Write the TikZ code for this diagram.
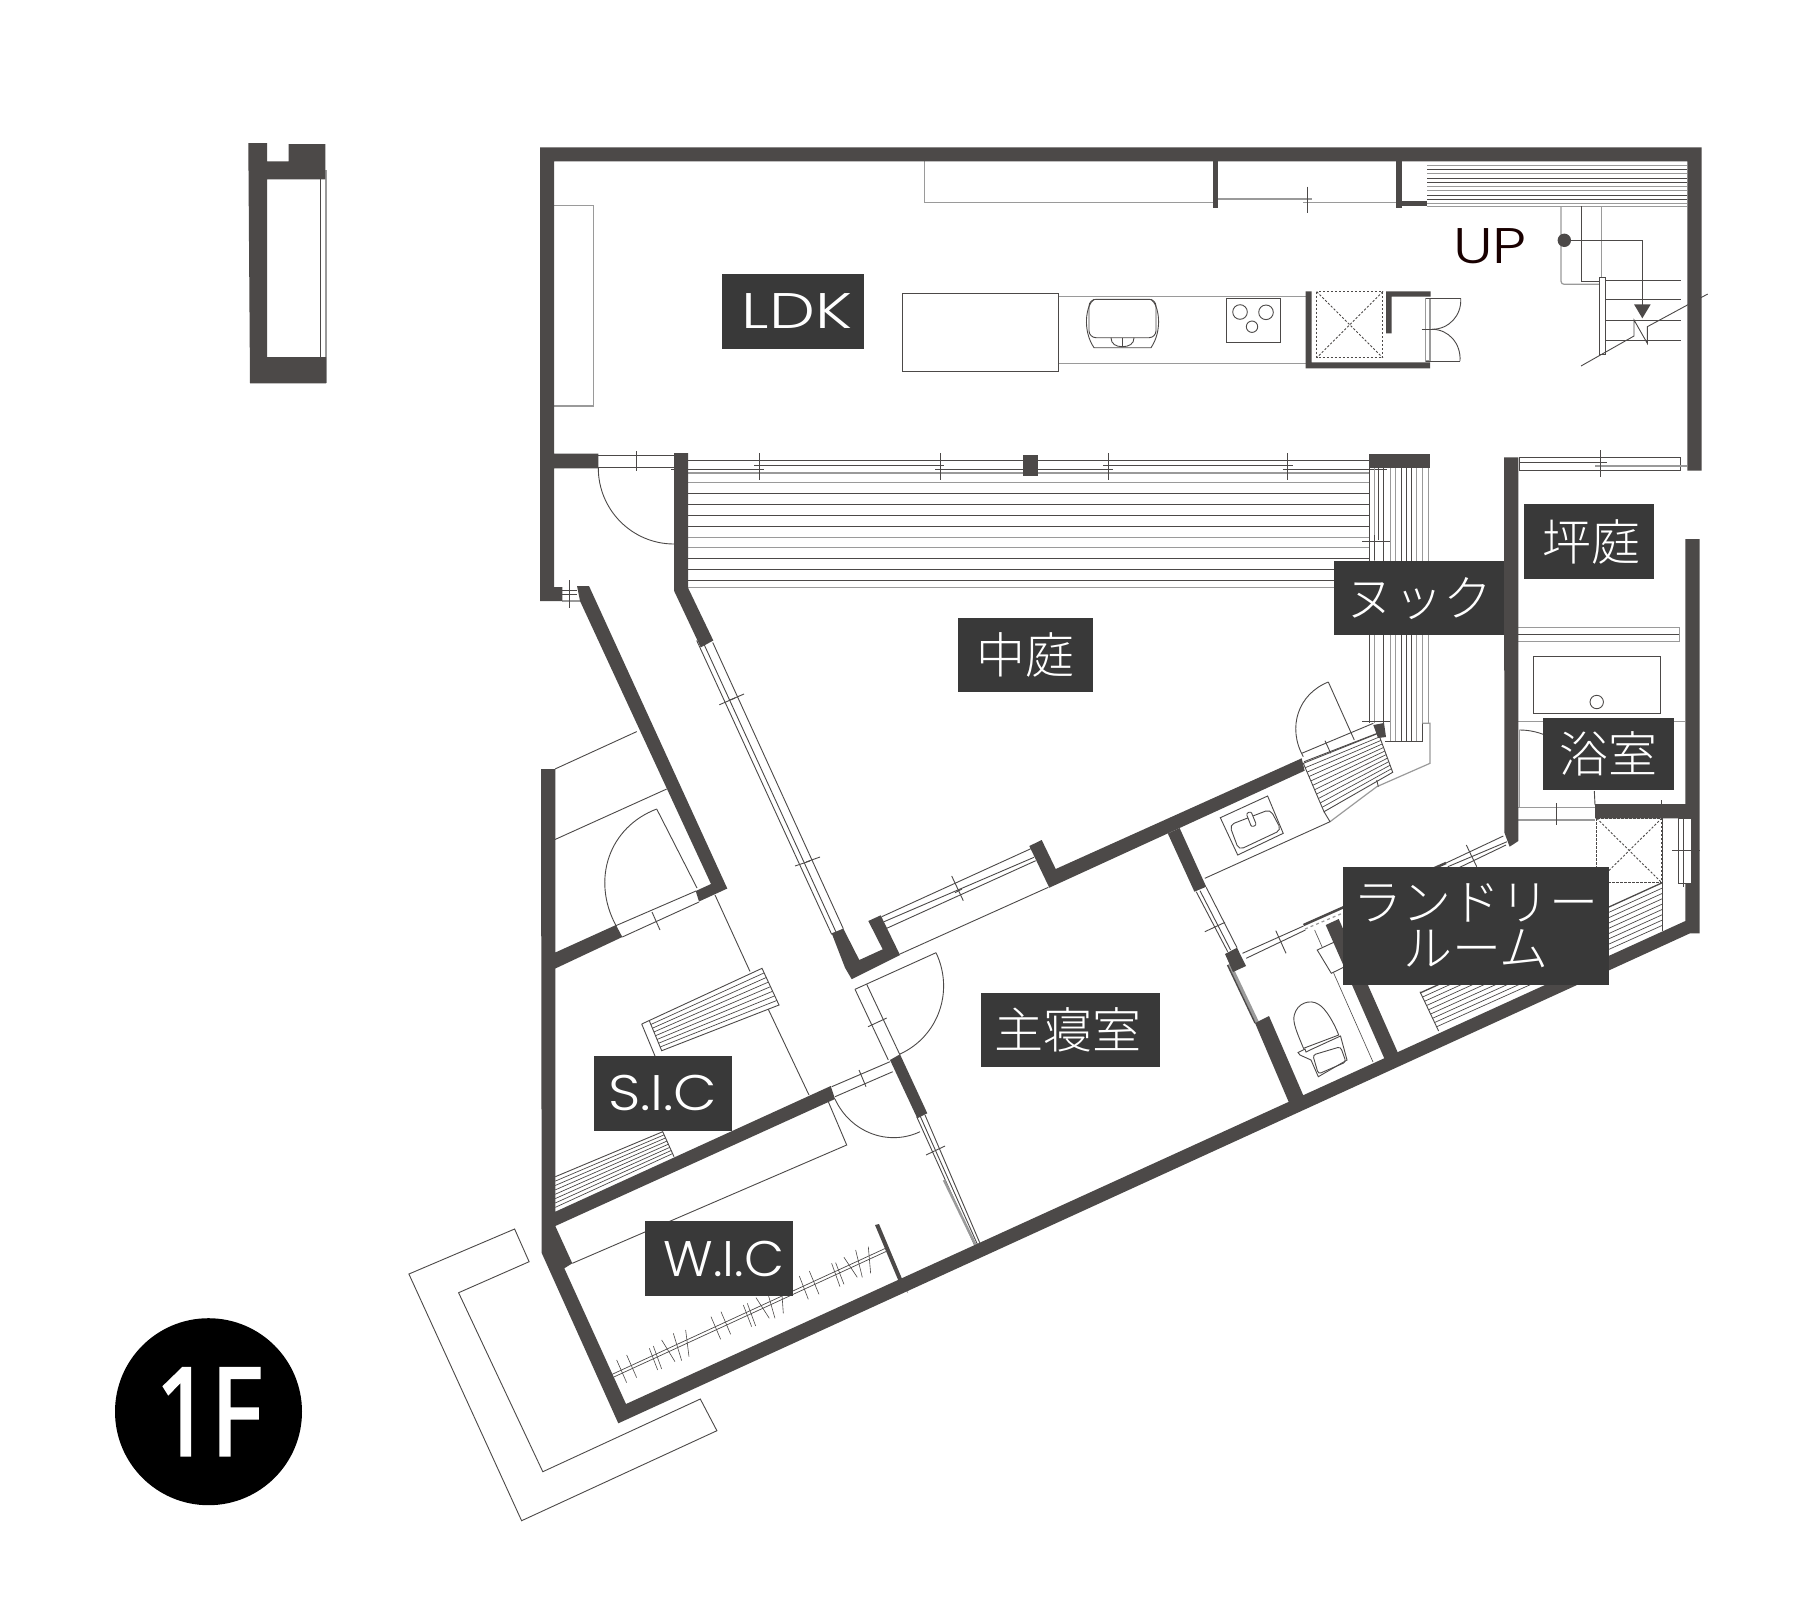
\documentclass[tikz,border=0pt]{standalone}
\usepackage{fontspec}
\usepackage{graphicx}
\usetikzlibrary{calc}
\IfFontExistsTF{Poppins Light}{\newfontfamily\latinf{Poppins Light}}{\IfFontExistsTF{Lato Light}{\newfontfamily\latinf{Lato Light}}{\newfontfamily\latinf{Lato}}}
\IfFontExistsTF{Noto Sans CJK JP Light}{\newfontfamily\jpf{Noto Sans CJK JP Light}}{\IfFontExistsTF{Noto Sans CJK JP DemiLight}{\newfontfamily\jpf{Noto Sans CJK JP DemiLight}}{\newfontfamily\jpf{Noto Sans CJK JP}}}
\newfontfamily\numf[FakeBold=2,FakeStretch=0.8]{Noto Sans}
\definecolor{wallc}{HTML}{4C4948}
\definecolor{labc}{HTML}{393939}
\definecolor{greyl}{HTML}{9A9A9A}
\newcommand\qarc[3]{\draw[thinln] (#2) .. controls ($(#2)+0.5523*(#3)-0.5523*(#1)$) and ($(#3)+0.5523*(#2)-0.5523*(#1)$) .. (#3);}
\newcommand\hatchlines[5]{\foreach \t in {1,...,#5}{\pgfmathsetmacro\f{\t/(#5+1)}\draw[thinln,line width=0.7pt] ($(#1)!\f!(#4)$) -- ($(#2)!\f!(#3)$);}}
\tikzset{
  wall/.style={fill=wallc,draw=none},
  thinln/.style={draw=wallc,line width=0.9pt},
  greyln/.style={draw=greyl,line width=1.2pt},
  dashln/.style={draw=wallc,line width=0.9pt,dash pattern=on 2.2pt off 1.8pt},
  lab/.style={fill=labc,text=white,inner sep=0pt,align=center,font=\fontsize{49}{46}\selectfont\jpf},
  lablat/.style={lab,font=\fontsize{50}{50}\selectfont\latinf}
}
\begin{document}
\begin{tikzpicture}[x=1pt,y=-1pt]
\useasboundingbox (0,0) rectangle (1819,1609);
\fill[white] (0,0) rectangle (1819,1609);

% --- thin fixtures ---
% top cabinet and sliding door
\draw[greyln] (924.4,161.3) -- (924.4,202.7) -- (1212.6,202.7);
\draw[greyln] (1218,199) -- (1311.7,199);
\draw[greyln] (1303.3,202.7) -- (1395.7,202.7);
\draw[thinln] (1307.7,186.7) -- (1307.7,213.3);
% left storage
\draw[greyln] (554,205.7) -- (593.3,205.7) -- (593.3,406) -- (554,406);
% kitchen
\draw[thinln] (902.4,293.3) rectangle (1058.6,371.7);
\draw[greyln] (1058.6,296.7) -- (1305.7,296.7);
\draw[greyln] (1058.6,363.3) -- (1305.7,363.3);
\draw[thinln,rounded corners=7pt] (1089,299.3) rectangle (1156,337.7);
\draw[thinln] (1094,299.3) .. controls (1086,305) and (1082,330) .. (1094,347.7) -- (1151,347.7) .. controls (1163,330) and (1159,305) .. (1151,299.3);
\draw[thinln] (1111,337.7) .. controls (1111,344) and (1116,346.7) .. (1122.3,346.7) .. controls (1129,346.7) and (1134,344) .. (1134,337.7);
\draw[thinln] (1122.3,337.7) -- (1122.3,346.7);
\draw[thinln] (1226.7,298.3) rectangle (1280.7,342.7);
\draw[thinln] (1240,312) circle (7.3);
\draw[thinln] (1266,312.3) circle (7.3);
\draw[thinln] (1252,326.7) circle (5.7);
% pantry
\draw[dashln] (1316.7,291.7) rectangle (1382.7,357.7);
\draw[dashln] (1316.7,291.7) -- (1382.7,357.7);
\draw[dashln] (1382.7,291.7) -- (1316.7,357.7);
\draw[greyln] (1425.7,298.3) rectangle (1430,361);
\draw[thinln] (1425.7,298.3) -- (1460.7,298.3);
\draw[thinln] (1425.7,361) -- (1460,361);
\draw[thinln] (1421.7,329.3) -- (1436.7,329.3);
\qarc{1430,298.3}{1460.7,298.3}{1432,329.3}
\qarc{1430,361}{1460,361}{1432,329.3}
% top right hatching
\foreach \yy/\cc in {165/greyl,169.5/wallc,173.5/greyl,178/wallc,182/wallc,186/greyl,190.5/greyl,195/wallc,199/wallc,203/greyl,206/greyl}
  \draw[draw=\cc,line width=0.9pt] (1427.3,\yy) -- (1687.3,\yy);
% stairs
\draw[greyln,rounded corners=3pt] (1561,206) -- (1561,284.3) -- (1599.3,284.3);
\draw[thinln] (1581.7,206) -- (1581.7,281.7) -- (1599.3,281.7);
\draw[greyln] (1601.7,206) -- (1601.7,277.3);
\draw[thinln,fill=white] (1599.3,277.3) rectangle (1605,354);
\foreach \yy in {280,299.3,320,340}
  \draw[thinln] (1605,\yy) -- (1680.7,\yy);
\draw[thinln] (1564.3,240.3) -- (1642.3,240.3) -- (1642.3,306);
\fill[wallc] (1564.3,240.3) circle (6.7);
\fill[wallc] (1634,304.3) -- (1650.7,304.3) -- (1642.3,318.3) -- cycle;
\draw[thinln] (1581,366) -- (1634,336) -- (1634,320) -- (1647.3,343.3) -- (1647.3,326.7) -- (1707.7,294);
% LDK south window
\draw[thinln] (598.3,455.3) -- (674,455.3);
\draw[thinln] (598.3,467.5) -- (674,467.5);
\draw[thinln] (636,451) -- (636,471.3);
\qarc{674,468}{598.3,468}{674,544}
\draw[thinln] (688,460.6) -- (1369,460.6);
\draw[thinln,line width=1.2pt] (754,465.2) -- (944,465.2);
\draw[thinln,line width=1.2pt] (1103,465.2) -- (1293,465.2);
\draw[thinln] (671,469.4) -- (764,469.4);
\draw[thinln] (935,469.4) -- (1113,469.4);
\draw[thinln] (1282.7,469.3) -- (1386.7,469.3);
\draw[greyln] (688,473) -- (1369,473);
\foreach \xx in {759.3,940.7,1108,1287.7}
  \draw[thinln] (\xx,453) -- (\xx,480);
\foreach \yy/\cc in {482.8/greyl,493.5/wallc,504.6/wallc,515.3/wallc,526.4/wallc,537/greyl,547.9/greyl,558.6/wallc,569.3/wallc,580/wallc,587.7/greyl}
  \draw[draw=\cc,line width=0.9pt] (688,\yy) -- (1369.3,\yy);
% nook bench vertical
\foreach \xx/\cc/\ee in {1369.3/wallc/723,1374.7/greyl/723,1383.3/wallc/725,1390.7/greyl/741,1395.7/greyl/741,1401/wallc/741,1406/wallc/741,1411.3/wallc/741,1416.7/greyl/741,1422/greyl/741,1428/greyl/723}
  \draw[draw=\cc,line width=0.9pt] (\xx,468) -- (\xx,\ee);
\draw[thinln] (1378.3,468) -- (1378.3,540);
\draw[thinln] (1385.3,741) -- (1422.3,741) -- (1422.3,723.3);
\draw[greyln] (1422.3,723.3) -- (1430,723.3) -- (1430,763.3) -- (1376.7,786.7) -- (1330,821.7);
\draw[thinln] (1362,541) -- (1390,541);
\draw[thinln] (1374.7,535) -- (1374.7,560);
\draw[thinln] (1362,721) -- (1390,721);
% wash-room steps and door
\qarc{1358,735}{1328.3,682}{1303.3,756.7}
\draw[thinln] (1328.3,682) -- (1354.3,740);
\draw[thinln] (1301.7,753.3) -- (1373.3,723.3);
\draw[thinln] (1304,761.7) -- (1378,733);
\draw[thinln] (1325,740.7) -- (1330.7,753.3);
\draw[thinln] (1303.3,763.3) -- (1378.3,733.3) -- (1392.7,772.3) -- (1324,811.7) -- cycle;
\hatchlines{1303.3,763.3}{1378.3,733.3}{1392.7,772.3}{1324,811.7}{10}
\draw[thinln] (1324,811.7) -- (1330,821.7) -- (1204.8,878.3);
\draw[thinln] (1376.7,780) -- (1378.3,786.7);
% basin
\draw[thinln] (1220.3,817.7) -- (1267.6,796) -- (1283.2,833.3) -- (1237.7,855) -- cycle;
\draw[thinln,rounded corners=5pt] (1229.5,825) -- (1270.2,809.3) -- (1281.3,830) -- (1238.8,850) -- cycle;
\draw[thinln,fill=white,rounded corners=2pt] (1246.2,813.5) -- (1251,811.5) -- (1256.5,825) -- (1251.5,827) -- cycle;
% bath area
\draw[greyln] (1518.3,627.3) -- (1679.3,627.3) -- (1679.3,641.7) -- (1518.3,641.7);
\draw[thinln] (1518.3,634.3) -- (1679.3,634.3);
\draw[thinln] (1533.7,656.3) rectangle (1660.7,713.7);
\draw[thinln] (1596.7,702) circle (6.7);
\draw[greyln] (1518,721.7) -- (1685,721.7);
\draw[thinln] (1519.3,730) .. controls (1528,730) and (1536,731.5) .. (1545,735);
\draw[greyln] (1519.3,730) -- (1519.3,807.7);
\draw[greyln] (1518,807.7) -- (1595,807.7);
\draw[greyln] (1518,820) -- (1595,820);
\draw[thinln] (1556.7,803) -- (1556.7,825);
\draw[thinln] (1594.3,791) -- (1595,805);
\draw[thinln] (1661,800) -- (1661,805);
% upper-right window
\draw[thinln] (1519.3,457.3) rectangle (1680,470.7);
\draw[thinln] (1519.3,462.3) -- (1607,462.3);
\draw[greyln] (1595,466) -- (1687.3,466);
\draw[thinln] (1600,450) -- (1600,476.7);
% shower dashed
\draw[dashln] (1596.7,818.3) rectangle (1661.7,882.7);
\draw[dashln] (1596.7,818.3) -- (1661.7,882.7);
\draw[dashln] (1661.7,818.3) -- (1596.7,882.7);
\draw[thinln] (1662.3,818.3) -- (1662.3,930.7);
\draw[thinln,line width=1.3pt] (1420,993) -- (1662.3,882.7);
\hatchlines{1420,993}{1662.3,882.7}{1662.3,930.7}{1438.6,1031}{8}
\draw[thinln] (1420,991.7) -- (1438.6,1031);
% laundry upper window
\draw[thinln] (1446,863) -- (1503.3,836);
\draw[thinln] (1447.8,866.7) -- (1507,841.7);
\draw[thinln] (1450,872) -- (1506,845);
\draw[thinln] (1466.3,845) -- (1476.7,866.7);
\draw[thinln,line width=2.5pt] (1430,870) -- (1446,863);
% laundry small right window
\draw[thinln,fill=white] (1678.3,818) rectangle (1691,883);
\draw[thinln] (1683.3,818) -- (1683.3,887);
\draw[thinln] (1672.3,850.7) -- (1700,850.7);
% toilet
\draw[thinln] (1196.2,891.7) -- (1227.7,951.7);
\draw[thinln] (1200,890.7) -- (1230.6,950);
\draw[thinln] (1206.2,887.3) -- (1237,947.7);
\draw[thinln] (1204.8,931.7) -- (1225,922.3);
\draw[greyln,line width=3.6pt] (1229.5,964) -- (1257,1022);
\draw[thinln,line width=1.4pt] (1227.5,965) -- (1255,1023);
\draw[thinln] (1242.5,953.3) -- (1303.5,926);
\draw[thinln] (1246.2,958.3) -- (1305.4,930);
\draw[thinln] (1275.8,930.7) -- (1286,953.3);
\draw[thinln,line width=2.5pt] (1303.5,925) -- (1344,907);
\draw[greyln,dashed] (1305,929) -- (1343,913);
\draw[thinln,line width=0.6pt] (1314.6,930) -- (1373,1062);
\draw[thinln,fill=white] (1317.2,950) -- (1338.7,940) -- (1351.6,963.3) -- (1331.3,973.3) -- cycle;
\draw[thinln] (1303.5,1048.3) .. controls (1298,1035) and (1292,1022) .. (1294.3,1015) .. controls (1297,1003) and (1310,999) .. (1318,1004) .. controls (1326,1008) and (1335,1025) .. (1338.7,1035) -- cycle;
\draw[thinln,fill=white] (1298,1052.5) -- (1305,1049) -- (1306,1052) -- (1310,1050) -- (1340.5,1036) -- (1347,1060) -- (1318.3,1076.7) -- (1311,1060) -- (1300,1055) -- cycle;
\draw[thinln,rounded corners=3pt] (1312.8,1055) -- (1340.5,1046.7) -- (1346,1062) -- (1318.3,1074) -- cycle;
% diagonal window of court
\draw[thinln] (696.7,640.5) -- (831.7,934.4);
\draw[thinln] (704,644.3) -- (836,932);
\draw[thinln] (712.7,642.4) -- (843.3,928.7);
\draw[thinln] (719.3,704.8) -- (735,698);
\draw[thinln] (730,700) -- (744,694);
\draw[thinln] (795,866) -- (810,861);
\draw[thinln] (806,862) -- (820,857);
% court lower window
\draw[thinln] (881.7,916.7) -- (1031.7,848.3);
\draw[thinln] (884,921.7) -- (1034,857.3);
\draw[thinln] (886.7,928.3) -- (1035.7,860.7);
\draw[thinln] (900,954) -- (1048.3,887.3);
\draw[thinln] (951.7,876) -- (963.3,900.7);
\draw[thinln] (955,892.7) -- (962,889);
% closet lines
\draw[thinln] (555,769) -- (636.7,731.6);
\draw[thinln] (555,839.5) -- (666.7,789);
\draw[thinln] (616,925.6) -- (696,891);
\draw[thinln] (622.3,937) -- (699,902);
\draw[thinln] (652,912) -- (660,930);
\qarc{702,893}{656.7,809}{616,925.6}
\draw[thinln] (656.7,809) -- (697,888);
\draw[thinln] (715,895) -- (750,971.5);
% bench
\draw[thinln] (641.7,1024) -- (762,968.3) -- (779,1005) -- (661.7,1050.7) -- (649.3,1020.7);
\hatchlines{649.3,1020.7}{762,968.3}{779,1005}{661.7,1050.7}{7}
\draw[thinln] (641.7,1024) -- (655,1056);
\draw[thinln] (768.3,1009.3) -- (809,1095);
% S.I.C hatch
\draw[thinln] (555.3,1176.7) -- (662.7,1131.7) -- (674,1156.7);
\hatchlines{555.3,1176.7}{662.7,1131.7}{674,1156.7}{555.3,1211.7}{7}
% WIC closet line
\draw[thinln] (572.3,1263.3) -- (846.7,1145) -- (828.3,1101.7);
% hall door
\draw[thinln] (855,989.3) -- (936,952.7);
\qarc{866.7,984.3}{936,952.7}{900,1054}
\draw[thinln] (855,989.3) -- (888.3,1060);
\draw[thinln] (866.7,984.3) -- (900,1055);
\draw[thinln] (868,1026.7) -- (886.7,1018);
\draw[thinln] (831.7,1086.7) -- (890,1061.7);
\draw[thinln] (835,1096.7) -- (892.7,1071.7);
\draw[thinln] (859,1070) -- (866,1086.7);
\qarc{892.7,1071.7}{835,1099}{920,1131.7}
% hall lower window
\draw[thinln] (916.7,1116.7) -- (975,1246);
\draw[thinln] (920,1115.7) -- (977.7,1245);
\draw[thinln] (925,1115) -- (980,1243.3);
\draw[thinln] (926,1155) -- (945,1146);
\draw[greyln,line width=2.5pt] (944,1180) -- (976,1246);
% WIC rod and hangers
\draw[thinln,line width=0.7pt] (611.7,1374.5) -- (885,1248.5);
\draw[thinln,line width=0.7pt] (612.7,1377.5) -- (886,1251.5);
\begin{scope}[shift={(520,950)},x=0.3333pt,y=-0.3333pt]
\foreach \a/\b/\c/\d in {290/1230/320/1298,320/1215/350/1283,388/1195/413/1260,400/1188/425/1257,425/1170/465/1235,460/1150/485/1232,497/1140/507/1220,573/1100/602/1168,603/1085/632/1153,670/1065/695/1130,682/1060/707/1128,708/1043/748/1105,745/1035/765/1105,785/1020/790/1090,838/978/865/1048,868/963/897/1033,935/940/960/1010,947/938/972/1003,972/922/1012/982,1007/900/1027/982,1045/890/1052/970}
  \draw[thinln,line width=0.6pt] (\a,\b) -- (\c,\d);
\end{scope}
% porch outline
\draw[thinln] (514.6,1229) -- (408.9,1274) -- (521.6,1520.7) -- (716.9,1430.7) -- (700.3,1399) -- (542.8,1471.7) -- (458.6,1292.7) -- (529.1,1261.7) -- cycle;
% small entry window
\draw[thinln] (562,590.7) -- (577,590.7);
\draw[thinln] (562,594.5) -- (577,594.5);
\draw[greyln] (562,601) -- (580,601);
\draw[thinln] (569,580) -- (569,608);
% top-left tower window
\draw[thinln] (320,179) -- (320,357);
\draw[greyln] (326,170) -- (326,383.3);

% --- walls ---
\fill[wall] (248.3,143) -- (267,143) -- (267,161.3) -- (288.7,161.3) -- (288.7,144) -- (325.3,144) -- (325.3,179.3) -- (267,179.3) -- (267,357) -- (326,357) -- (326,383.3) -- (250,383.3) -- cycle;
\fill[wall] (540,147.3) -- (1701.7,147.3) -- (1701.7,470.7) -- (1687.3,470.7) -- (1687.3,161.3) -- (554,161.3) -- (554,453.7) -- (598.3,453.7) -- (598.3,468.3) -- (554,468.3) -- (554,587) -- (562.3,587) -- (562.3,601) -- (540,601) -- cycle;
\fill[wall] (577,586) -- (589,586) -- (727.3,888.5) -- (699,901.5) -- (695.7,891) -- (711,884) -- (580,601) -- cycle;
\fill[wall] (541,769) -- (555.3,769) -- (555.3,952.5) -- (616,925) -- (622.3,937) -- (555.3,968.5) -- (555.3,1211.7) -- (830.7,1086) -- (835,1099) -- (555.3,1226) -- (572.3,1263.3) -- (564.3,1268.3) -- (626,1404) -- (1685.3,921) -- (1685.3,883) -- (1691,883) -- (1691,818.3) -- (1595,818.3) -- (1595,804) -- (1685.3,804) -- (1685.3,539) -- (1699.7,539) -- (1699.7,933.3) -- (1690,933.3) -- (618.3,1423.3) -- (541.7,1253) -- cycle;
\fill[wall] (674,453) -- (688,453) -- (688,587.7) -- (713.3,640.5) -- (700.7,647.4) -- (674,590.7) -- cycle;
\fill[wall] (831.7,933.3) -- (843.3,928.6) -- (859.3,960) -- (882.7,949.3) -- (868.3,921) -- (880.7,915.3) -- (900,955) -- (851.7,979.2) -- (845,967.7) -- cycle;
\fill[wall] (1029.3,846) -- (1041.7,840) -- (1055.7,869) -- (1301.7,758.3) -- (1304.6,770.7) -- (1049.3,887.7) -- cycle;
\fill[wall] (1167.8,833.5) -- (1179.6,828) -- (1206.2,886.7) -- (1194.4,891.7) -- cycle;
\fill[wall] (1225,954) -- (1237,947.7) -- (1246,966) -- (1233,972) -- cycle;
\fill[wall] (1255,1023) -- (1269,1016) -- (1304,1097) -- (1290,1105) -- cycle;
\fill[wall] (1325.7,925) -- (1338.7,919) -- (1398,1053) -- (1385,1060) -- cycle;
\fill[wall] (890,1060) -- (900,1054.3) -- (927.3,1113.3) -- (917.3,1118.3) -- cycle;
\fill[wall] (875,1225) -- (879,1224) -- (908,1293) -- (899,1282) -- cycle;
\fill[wall] (1504,457.3) -- (1518.3,457.3) -- (1518.3,841) -- (1509.6,846.7) -- (1504.4,832.7) -- cycle;
\fill[wall] (1369.3,454) rectangle (1430,468);
\fill[wall] (1023,455) rectangle (1038,476);
\fill[wall] (1373.3,725) -- (1384,723) -- (1386,737) -- (1378,738) -- cycle;
% pantry walls
\fill[wall] (1305.7,291.3) -- (1311.7,291.3) -- (1311.7,362.3) -- (1430,362.3) -- (1430,368.3) -- (1305.7,368.3) -- cycle;
\fill[wall] (1386,291.3) -- (1430.7,291.3) -- (1430.7,296.7) -- (1391.7,296.7) -- (1391.7,333.3) -- (1386,333.3) -- cycle;
% top partitions
\fill[wall] (1212.6,161.3) rectangle (1218.3,207.7);
\fill[wall] (1395.7,161.3) rectangle (1401.7,207.7);
\fill[wall] (1401.7,200.7) rectangle (1427.3,206);

% --- labels ---
\node[lablat,minimum width=142.4pt,minimum height=74.7pt] (ldk) at (793,311.3) {\hspace{8pt}\scalebox{1.3}[1]{LDK}};
\node[lablat,minimum width=138pt,minimum height=74.7pt] (sic) at (662.7,1093.3) {\scalebox{1.13}[1]{S.I.C}};
\node[lablat,minimum width=148pt,minimum height=74.4pt] (wic) at (719,1258.5) {\hspace{10pt}\scalebox{1.04}[1]{W.I.C}};
\node[lab,minimum width=179.5pt,minimum height=74.7pt] (shushin) at (1070.7,1030) {主寝室\hspace{6pt}};
\node[lab,minimum width=135pt,minimum height=74pt] (nakaniwa) at (1025.5,655) {中庭};
\node[lab,minimum width=170.3pt,minimum height=74.3pt] (nook) at (1418.9,598.2) {ヌック};
\node[lab,minimum width=130.3pt,minimum height=74.7pt] (tsubo) at (1589.2,541.7) {\hspace{4pt}坪庭};
\node[lab,minimum width=131pt,minimum height=72pt] (yoku) at (1608.5,754.3) {浴室};
\node[lab,minimum width=265.7pt,minimum height=117.4pt] (laundry) at (1475.9,926) {ランドリー\\ルーム};
\node[inner sep=0pt,text=black!90!red,font=\fontsize{50}{50}\selectfont\latinf] (up) at (1490,246) {\scalebox{1.2}[1]{UP}};
\node[circle,fill=black,inner sep=0pt,minimum size=187pt,text=white,font=\fontsize{122}{122}\selectfont\numf] (floor) at (208.5,1411.7) {1F};
\end{tikzpicture}
\end{document}
